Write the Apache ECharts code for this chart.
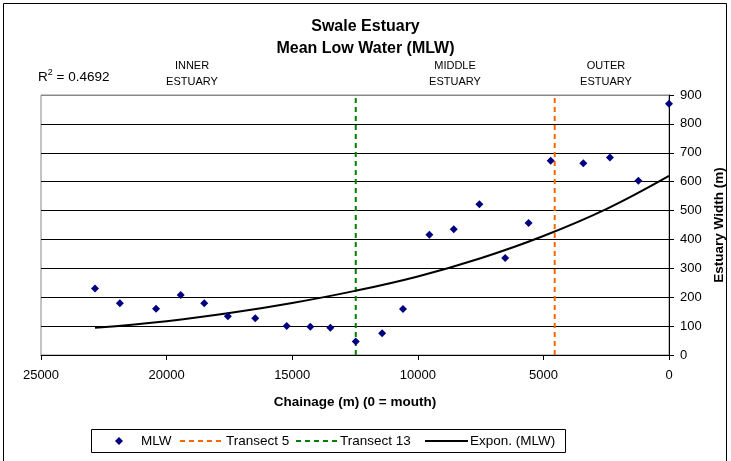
<!DOCTYPE html>
<html><head><meta charset="utf-8">
<script src="https://cdn.jsdelivr.net/npm/echarts@6/dist/echarts.min.js"></script>
<style>html,body{margin:0;padding:0;background:#fff}#c{width:731px;height:461px}</style>
</head><body><div id="c"></div>
<script>
// Chainage (m) and MLW estuary width (m)
const chainage = [22850, 21860, 20420, 19440, 18500, 17560, 16470, 15220, 14280, 13480, 12470, 11420, 10590, 9540, 8570, 7550, 6520, 5590, 4710, 3410, 2350, 1220, 0];
const mlwWidth = [230, 179, 160, 208, 179, 134, 127, 100, 98, 94, 47, 75, 159, 416, 435, 522, 336, 457, 672, 664, 684, 603, 870];
// Exponential trend line
const trendChainage = [22850, 20000, 17500, 15000, 12500, 10000, 7500, 5000, 2500, 0];
const trendWidth = [94, 117, 145, 180, 222, 272, 335, 412, 505, 620];
// Transect positions (chainage, m)
const transect5 = 4550;
const transect13 = 12470;
const xTicks = [25000, 20000, 15000, 10000, 5000, 0];
const yTicks = [0, 100, 200, 300, 400, 500, 600, 700, 800, 900];
const zoneNames = ['INNER\nESTUARY', 'MIDDLE\nESTUARY', 'OUTER\nESTUARY'];
const legendNames = ['MLW', 'Transect 5', 'Transect 13', 'Expon. (MLW)'];
const r2Value = '0.4692';

const F = 'Liberation Sans, Arial, sans-serif';
const chart = echarts.init(document.getElementById('c'), null, {renderer: 'canvas'});
const gridSplitColors = yTicks.map((v, i) => i === yTicks.length - 1 ? '#888' : '#000');

// layout-only positions
const zoneX = [192, 455, 606];
const legendY = 441;

const graphics = [
  {type: 'rect', shape: {x: 3.5, y: 3.5, width: 723, height: 470}, style: {fill: 'none', stroke: '#000', lineWidth: 1}, silent: true},
  {type: 'text', x: 38, y: 77, style: {
    text: '{r|R}{s|2}{r| = ' + r2Value + '}', verticalAlign: 'middle',
    rich: {r: {fontFamily: F, fontSize: 13.5, fill: '#000'}, s: {fontFamily: F, fontSize: 9, fill: '#000', verticalAlign: 'top', padding: [0, 0, 8, 0]}}
  }}
];
zoneNames.forEach((t, i) => graphics.push({
  type: 'text', x: zoneX[i], y: 58,
  style: {text: t, fontFamily: F, fontSize: 11, fill: '#000', align: 'center', lineHeight: 16}
}));
// legend box
graphics.push({type: 'rect', shape: {x: 91.5, y: 429.5, width: 474, height: 23}, style: {fill: '#fff', stroke: '#000', lineWidth: 1}});
graphics.push({type: 'polygon', shape: {points: [[119, legendY - 4], [123, legendY], [119, legendY + 4], [115, legendY]]}, style: {fill: '#000080'}});
graphics.push({type: 'line', shape: {x1: 180, y1: legendY, x2: 224, y2: legendY}, style: {stroke: '#FF6600', lineWidth: 2, lineDash: [5, 4]}});
graphics.push({type: 'line', shape: {x1: 296, y1: legendY, x2: 339, y2: legendY}, style: {stroke: '#008000', lineWidth: 2, lineDash: [5, 4]}});
graphics.push({type: 'line', shape: {x1: 425, y1: legendY, x2: 468, y2: legendY}, style: {stroke: '#000', lineWidth: 2}});
const legendTextX = [141, 226, 340, 470];
legendNames.forEach((n, i) => graphics.push({
  type: 'text', x: legendTextX[i], y: legendY,
  style: {text: n, fontFamily: F, fontSize: 13.5, fill: '#000', verticalAlign: 'middle'}
}));

chart.setOption({
  animation: false,
  backgroundColor: '#fff',
  title: [
    {text: 'Swale Estuary', left: 'center', top: 14, textStyle: {fontFamily: F, fontSize: 16, fontWeight: 'bold', color: '#000'}},
    {text: 'Mean Low Water (MLW)', left: 'center', top: 36, textStyle: {fontFamily: F, fontSize: 16, fontWeight: 'bold', color: '#000'}}
  ],
  grid: {left: 41, right: 62, top: 95, bottom: 106, show: true, borderColor: '#888', borderWidth: 1, containLabel: false, outerBoundsMode: 'none'},
  xAxis: {
    type: 'value', inverse: true, min: 0, max: 25000, interval: 5000,
    name: 'Chainage (m) (0 = mouth)', nameLocation: 'middle', nameGap: 40,
    nameTextStyle: {fontFamily: F, fontSize: 13.5, fontWeight: 'bold', color: '#000'},
    axisLine: {show: true, lineStyle: {color: '#000', width: 1}},
    axisTick: {show: true, length: 5, lineStyle: {color: '#000'}},
    axisLabel: {fontFamily: F, fontSize: 13, color: '#000', margin: 14, formatter: v => String(v)},
    splitLine: {show: false}
  },
  yAxis: {
    type: 'value', position: 'right', min: 0, max: 900, interval: 100,
    name: 'Estuary Width (m)', nameLocation: 'middle', nameGap: 38, nameRotate: 90,
    nameTextStyle: {fontFamily: F, fontSize: 13.5, fontWeight: 'bold', color: '#000'},
    axisLine: {show: true, lineStyle: {color: '#000', width: 1}},
    axisTick: {show: true, length: 5, lineStyle: {color: '#000'}},
    axisLabel: {fontFamily: F, fontSize: 13, color: '#000', margin: 11},
    splitLine: {show: true, lineStyle: {color: gridSplitColors, width: 1}}
  },
  series: [
    {
      name: legendNames[0], type: 'scatter', symbol: 'diamond', symbolSize: 8,
      itemStyle: {color: '#000080', opacity: 1},
      data: chainage.map((c, i) => [c, mlwWidth[i]]), z: 5
    },
    {
      name: legendNames[1], type: 'line', symbol: 'none',
      lineStyle: {color: '#FF6600', width: 2, type: [5, 4]},
      data: [[transect5, 0], [transect5, 900]], z: 3
    },
    {
      name: legendNames[2], type: 'line', symbol: 'none',
      lineStyle: {color: '#008000', width: 2, type: [5, 4]},
      data: [[transect13, 0], [transect13, 900]], z: 3
    },
    {
      name: legendNames[3], type: 'line', symbol: 'none', smooth: 0.4,
      lineStyle: {color: '#000', width: 2},
      data: trendChainage.map((c, i) => [c, trendWidth[i]]), z: 4
    }
  ],
  graphic: graphics
});
</script></body></html>
